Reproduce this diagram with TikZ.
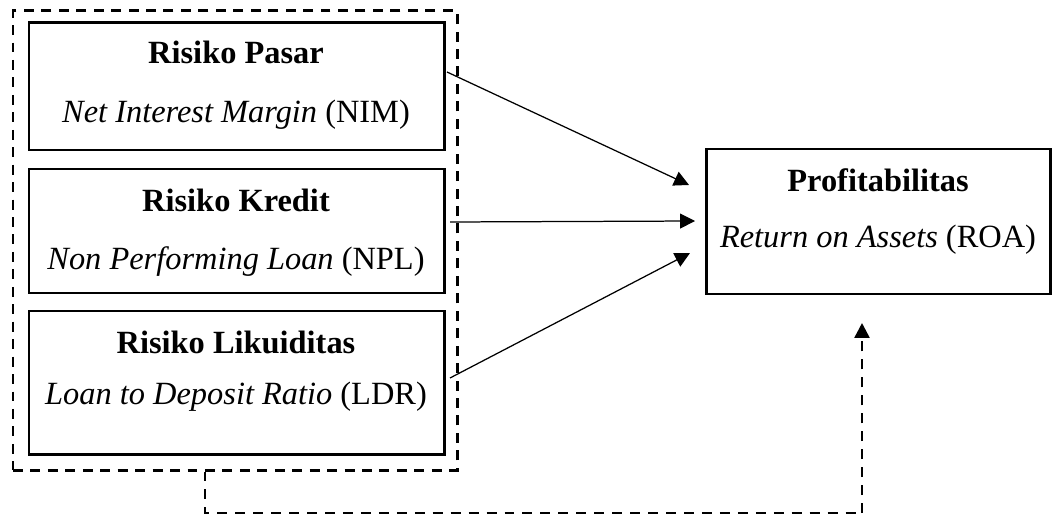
\documentclass[tikz,border=0pt]{standalone}
\usepackage{fontspec}
\setmainfont{Liberation Serif}
\usetikzlibrary{arrows.meta, positioning, fit, calc}

\begin{document}
\begin{tikzpicture}[x=0.0141cm, y=-0.0141cm, font=\fontsize{13}{15}\selectfont,
    box/.style={draw, line width=1.2pt, inner sep=0pt},
    grupbox/.style={draw, line width=1.2pt, inner sep=0pt, dash pattern=on 4pt off 3pt},
    dashline/.style={line width=1pt, dash pattern=on 4pt off 3.2pt},
    panah/.style={line width=0.5pt, -{Triangle[length=6pt, width=6pt]}}]
\useasboundingbox (0,0) rectangle (1062,515);

% variabel independen
\node[grupbox, fit={(13,11) (457,470)}] (grup) {};
\foreach \name/\yt/\yb/\ya/\yd/\judul/\ket in {%
    pasar/23/150/52/115/Risiko Pasar/\textit{Net Interest Margin} (NIM),
    kredit/169/293/200/262/Risiko Kredit/\textit{Non Performing Loan} (NPL),
    likuiditas/311/454/342/397/Risiko Likuiditas/\textit{Loan to Deposit Ratio} (LDR)
} {
    \node[box, fit={(29,\yt) (444,\yb)}] (\name) {};
    \node (\name-judul) at (236,\ya) {\textbf{\judul}};
    \node (\name-ket) at (236,\yd) {\ket};
}

% variabel dependen
\node[box, fit={(706,149) (1050,294)}] (roa) {};
\node (roa-judul) at (878,180) {\textbf{Profitabilitas}};
\node (roa-ket) at (878,240) {\textit{Return on Assets} (ROA)};

% pengaruh parsial
\coordinate (a1) at (447,72);
\coordinate (a2) at (450,222);
\coordinate (a3) at (450,378);
\coordinate (t1) at (689,185);
\coordinate (t2) at (695,221);
\coordinate (t3) at (690,253);
\draw[panah] (a1) -- (t1);
\draw[panah] (a2) -- (t2);
\draw[panah] (a3) -- (t3);

% pengaruh simultan
\coordinate (b1) at (205,513);
\coordinate (b2) at (862,513);
\coordinate (b3) at (862,323);
\draw[dashline] (grup.south -| b1) -- (b1) -- (b2);
\draw[dashline, -{Triangle[length=6pt, width=6pt]}] (b2) -- (b3);
\end{tikzpicture}
\end{document}
